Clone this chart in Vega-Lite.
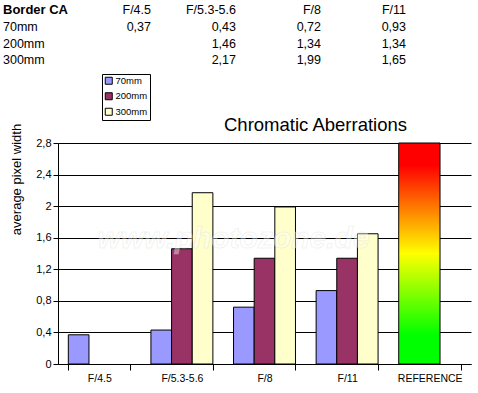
{
  "$schema": "https://vega.github.io/schema/vega-lite/v6.json",
  "autosize": {"type": "none"},
  "width": 413,
  "height": 221,
  "padding": {"left": 58, "top": 143, "right": 7, "bottom": 29},
  "background": "white",
  "config": {
    "view": {"stroke": null},
    "font": "Liberation Sans",
    "locale": {"number": {"decimal": ",", "thousands": ".", "grouping": [3], "currency": ["", " €"]}}
  },
  "title": {"text": "Chromatic Aberrations", "fontSize": 18.5, "fontWeight": "normal", "color": "black", "anchor": "middle", "dx": 51, "offset": 8, "dy": 138},
  "datasets": {
    "ca": [
      {"aperture": "F/4.5", "focal": "70mm", "ca": 0.37},
      {"aperture": "F/5.3-5.6", "focal": "70mm", "ca": 0.43},
      {"aperture": "F/5.3-5.6", "focal": "200mm", "ca": 1.46},
      {"aperture": "F/5.3-5.6", "focal": "300mm", "ca": 2.17},
      {"aperture": "F/8", "focal": "70mm", "ca": 0.72},
      {"aperture": "F/8", "focal": "200mm", "ca": 1.34},
      {"aperture": "F/8", "focal": "300mm", "ca": 1.99},
      {"aperture": "F/11", "focal": "70mm", "ca": 0.93},
      {"aperture": "F/11", "focal": "200mm", "ca": 1.34},
      {"aperture": "F/11", "focal": "300mm", "ca": 1.65}
    ],
    "reference": [{"aperture": "REFERENCE", "ca": 2.8}],
    "apertures": [{"aperture": "F/4.5"}, {"aperture": "F/5.3-5.6"}, {"aperture": "F/8"}, {"aperture": "F/11"}],
    "rows": [{"row": "70mm"}, {"row": "200mm"}, {"row": "300mm"}]
  },
  "layer": [
    {
      "layer": [
        {
          "data": {"name": "ca"},
          "mark": {"type": "bar", "stroke": "black", "strokeWidth": 1},
          "encoding": {
            "x": {
              "field": "aperture", "type": "nominal", "sort": null,
              "scale": {"domain": ["F/4.5", "F/5.3-5.6", "F/8", "F/11", "REFERENCE"], "paddingInner": 0.25, "paddingOuter": 0.125},
              "axis": {"title": null, "labelAngle": 0, "tickBand": "extent", "domainColor": "black", "tickColor": "black", "tickSize": 6, "labelColor": "black", "labelFontSize": 10.5, "labelPadding": 3, "grid": false}
            },
            "xOffset": {"field": "focal", "type": "nominal", "scale": {"domain": ["70mm", "200mm", "300mm"]}},
            "y": {
              "field": "ca", "type": "quantitative",
              "scale": {"domain": [0, 2.8], "nice": false},
              "axis": {
                "title": "average pixel width",
                "values": [0, 0.4, 0.8, 1.2, 1.6, 2, 2.4, 2.8],
                "tickCount": 10,
                "labelOverlap": false,
                "format": ".1~f",
                "grid": true, "gridColor": "black", "gridOpacity": 1, "gridWidth": 1,
                "domainColor": "black", "domainWidth": 1,
                "tickColor": "black", "tickSize": 5, "tickWidth": 1,
                "labelColor": "black", "labelFontSize": 11, "labelPadding": 2,
                "titleColor": "black", "titleFontSize": 13, "titleFontWeight": "normal",
                "titleX": -41.5, "titleY": 36, "titleAlign": "center", "titleBaseline": "middle", "titleAngle": -90
              }
            },
            "color": {
              "field": "focal", "type": "nominal",
              "scale": {"domain": ["70mm", "200mm", "300mm"], "range": ["#9999FF", "#993366", "#FFFFCC"]},
              "legend": {
                "orient": "none", "legendX": 44, "legendY": -69, "title": null,
                "strokeColor": "black", "fillColor": "white", "padding": 2, "cornerRadius": 0,
                "symbolType": "square", "symbolSize": 49, "symbolStrokeColor": "black", "symbolStrokeWidth": 1,
                "labelFontSize": 9.5, "labelColor": "black", "rowPadding": 3.5, "labelOffset": 2
              }
            }
          }
        },
        {
          "data": {"name": "reference"},
          "mark": {
            "type": "bar", "width": {"band": 0.6667}, "xOffset": -10.33, "stroke": "black", "strokeWidth": 1,
            "fill": {"gradient": "linear", "x1": 0, "y1": 0, "x2": 0, "y2": 1, "stops": [
              {"offset": 0, "color": "#FF0000"},
              {"offset": 0.1, "color": "#FF0000"},
              {"offset": 0.5, "color": "#FFFF00"},
              {"offset": 0.87, "color": "#00FF00"},
              {"offset": 1, "color": "#00FF00"}
            ]}
          },
          "encoding": {
            "x": {"field": "aperture", "type": "nominal"},
            "y": {"field": "ca", "type": "quantitative"}
          }
        },
        {
          "data": {"values": [{"label": "www.photozone.de"}]},
          "mark": {"type": "text", "fontSize": 30, "fontWeight": "bold", "fontStyle": "italic", "fill": "white", "fillOpacity": 0.4, "stroke": "#d4d4cc", "strokeOpacity": 0.3, "strokeWidth": 1, "align": "center", "baseline": "middle"},
          "encoding": {
            "x": {"datum": "F/8", "type": "nominal", "bandPosition": 0},
            "y": {"datum": 1.59, "type": "quantitative"},
            "text": {"field": "label"}
          }
        }
      ]
    },
    {
      "layer": [
        {
          "layer": [
            {
              "data": {"name": "apertures"},
              "mark": {"type": "text", "align": "right", "baseline": "alphabetic", "fontSize": 12.5, "color": "black"},
              "encoding": {
                "x": {"field": "aperture", "type": "nominal", "scale": {"type": "point", "domain": ["F/4.5", "F/5.3-5.6", "F/8", "F/11"], "range": [93, 348], "padding": 0}, "axis": null},
                "y": {"datum": "Border CA", "type": "nominal", "scale": {"type": "point", "domain": ["Border CA", "70mm", "200mm", "300mm"], "range": [-128.7, -78.7], "padding": 0}, "axis": null},
                "text": {"field": "aperture"}
              }
            },
            {
              "data": {"name": "ca"},
              "mark": {"type": "text", "align": "right", "baseline": "alphabetic", "fontSize": 12.5, "color": "black"},
              "encoding": {
                "x": {"field": "aperture", "type": "nominal", "axis": null},
                "y": {"field": "focal", "type": "nominal", "axis": null},
                "text": {"field": "ca", "type": "quantitative", "format": ".2f"}
              }
            }
          ]
        },
        {
          "layer": [
            {
              "data": {"values": [{"label": "Border CA"}]},
              "mark": {"type": "text", "align": "left", "baseline": "alphabetic", "fontSize": 13, "fontWeight": "bold", "color": "black"},
              "encoding": {
                "x": {"datum": "label", "type": "nominal", "scale": {"type": "point", "domain": ["label"], "range": [-55, -55], "padding": 0}, "axis": null},
                "y": {"datum": "Border CA", "type": "nominal", "axis": null},
                "text": {"field": "label"}
              }
            },
            {
              "data": {"name": "rows"},
              "mark": {"type": "text", "align": "left", "baseline": "alphabetic", "fontSize": 12.5, "color": "black"},
              "encoding": {
                "x": {"datum": "label", "type": "nominal", "axis": null},
                "y": {"field": "row", "type": "nominal", "axis": null},
                "text": {"field": "row"}
              }
            }
          ]
        }
      ],
      "resolve": {"scale": {"x": "independent"}}
    }
  ],
  "resolve": {"scale": {"x": "independent", "y": "independent"}}
}
